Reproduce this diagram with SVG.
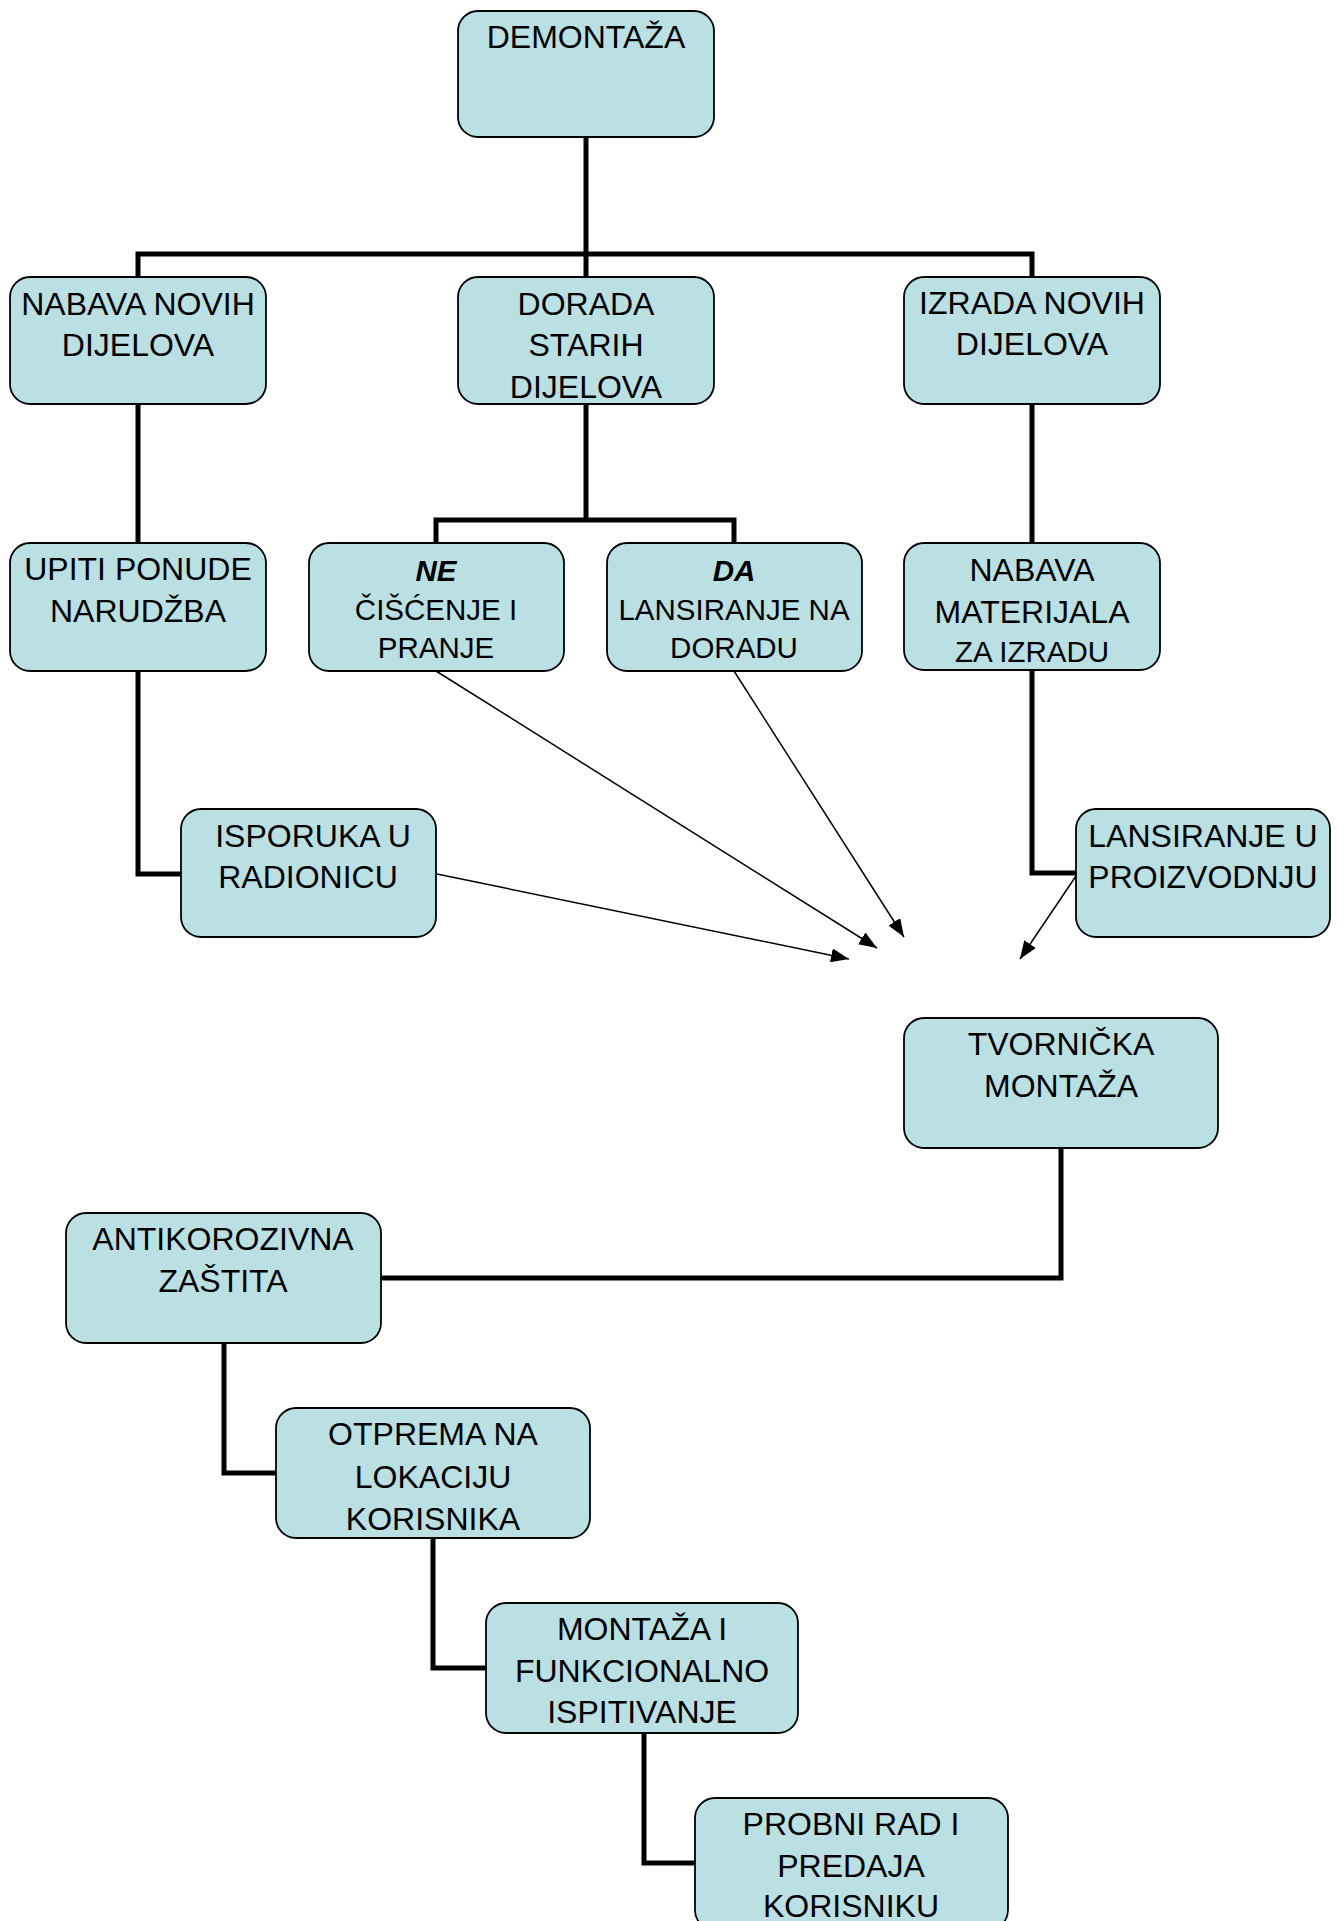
<svg xmlns="http://www.w3.org/2000/svg" width="1344" height="1921" viewBox="0 0 1344 1921">
<style>
.box{fill:#BBE0E3;stroke:#000;stroke-width:1.8}
.t{font-family:"Liberation Sans",Arial,sans-serif;font-size:32px;fill:#000;text-anchor:middle}
.s{font-size:29.5px}
.bi{font-weight:bold;font-style:italic}
.c{fill:none;stroke:#000;stroke-width:5;stroke-linejoin:miter}
.a{fill:none;stroke:#000;stroke-width:1.5}
</style>
<defs>
<marker id="ah" markerUnits="userSpaceOnUse" markerWidth="18" markerHeight="14" viewBox="0 0 18 14" refX="18" refY="7" orient="auto">
<path d="M0,0 L18,7 L0,14 z" fill="#000"/>
</marker>
</defs>
<rect width="1344" height="1921" fill="#fff"/>
<g id="connectors">
<path class="c" d="M586,137 V277"/>
<path class="c" d="M138,277 V254 H1032 V277"/>
<path class="c" d="M138,404 V543"/>
<path class="c" d="M138,671 V874 H181"/>
<path class="c" d="M586,404 V520"/>
<path class="c" d="M436,543 V520 H734 V543"/>
<path class="c" d="M1032,404 V543"/>
<path class="c" d="M1032,670 V873 H1076"/>
<path class="c" d="M1061,1148 V1278 H381"/>
<path class="c" d="M224,1343 V1473 H276"/>
<path class="c" d="M433,1538 V1668 H486"/>
<path class="c" d="M644,1733 V1863 H695"/>
<line class="a" x1="437" y1="874" x2="849" y2="959" marker-end="url(#ah)"/>
<line class="a" x1="436" y1="671" x2="877" y2="948" marker-end="url(#ah)"/>
<line class="a" x1="734" y1="671" x2="904" y2="937" marker-end="url(#ah)"/>
<line class="a" x1="1076" y1="876" x2="1020" y2="959" marker-end="url(#ah)"/>
</g>
<g id="demontaza">
<rect class="box" x="458" y="11" width="256" height="126" rx="20"/>
<text class="t" x="586" y="48">DEMONTAŽA</text>
</g>
<g id="nabava-novih">
<rect class="box" x="10" y="277" width="256" height="127" rx="20"/>
<text class="t" x="138" y="315">NABAVA NOVIH</text>
<text class="t" x="138" y="356">DIJELOVA</text>
</g>
<g id="dorada">
<rect class="box" x="458" y="277" width="256" height="127" rx="20"/>
<text class="t" x="586" y="315">DORADA</text>
<text class="t" x="586" y="356">STARIH</text>
<text class="t" x="586" y="398">DIJELOVA</text>
</g>
<g id="izrada">
<rect class="box" x="904" y="277" width="256" height="127" rx="20"/>
<text class="t" x="1032" y="314">IZRADA NOVIH</text>
<text class="t" x="1032" y="355">DIJELOVA</text>
</g>
<g id="upiti">
<rect class="box" x="10" y="543" width="256" height="128" rx="20"/>
<text class="t" x="138" y="580">UPITI PONUDE</text>
<text class="t" x="138" y="622">NARUDŽBA</text>
</g>
<g id="ne">
<rect class="box" x="309" y="543" width="255" height="128" rx="20"/>
<text class="t s bi" x="436" y="581">NE</text>
<text class="t s" x="436" y="620">ČIŠĆENJE I</text>
<text class="t s" x="436" y="658">PRANJE</text>
</g>
<g id="da">
<rect class="box" x="607" y="543" width="255" height="128" rx="20"/>
<text class="t s bi" x="734" y="581">DA</text>
<text class="t s" x="734" y="620">LANSIRANJE NA</text>
<text class="t s" x="734" y="658">DORADU</text>
</g>
<g id="nabava-materijala">
<rect class="box" x="904" y="543" width="256" height="127" rx="20"/>
<text class="t" x="1032" y="581">NABAVA</text>
<text class="t" x="1032" y="623">MATERIJALA</text>
<text class="t s" x="1032" y="662">ZA IZRADU</text>
</g>
<g id="isporuka">
<rect class="box" x="181" y="809" width="255" height="128" rx="20"/>
<text class="t" x="313" y="847">ISPORUKA U</text>
<text class="t" x="308" y="888">RADIONICU</text>
</g>
<g id="lansiranje">
<rect class="box" x="1076" y="809" width="254" height="128" rx="20"/>
<text class="t" x="1203" y="847">LANSIRANJE U</text>
<text class="t" x="1203" y="888">PROIZVODNJU</text>
</g>
<g id="tvornicka">
<rect class="box" x="904" y="1018" width="314" height="130" rx="20"/>
<text class="t" x="1061" y="1055">TVORNIČKA</text>
<text class="t" x="1061" y="1097">MONTAŽA</text>
</g>
<g id="antikorozivna">
<rect class="box" x="66" y="1213" width="315" height="130" rx="20"/>
<text class="t" x="223" y="1250">ANTIKOROZIVNA</text>
<text class="t" x="223" y="1292">ZAŠTITA</text>
</g>
<g id="otprema">
<rect class="box" x="276" y="1408" width="314" height="130" rx="20"/>
<text class="t" x="433" y="1445">OTPREMA NA</text>
<text class="t" x="433" y="1488">LOKACIJU</text>
<text class="t" x="433" y="1530">KORISNIKA</text>
</g>
<g id="montaza-ispitivanje">
<rect class="box" x="486" y="1603" width="312" height="130" rx="20"/>
<text class="t" x="642" y="1640">MONTAŽA I</text>
<text class="t" x="642" y="1682">FUNKCIONALNO</text>
<text class="t" x="642" y="1723">ISPITIVANJE</text>
</g>
<g id="probni-rad">
<rect class="box" x="695" y="1798" width="313" height="132" rx="20"/>
<text class="t" x="851" y="1835">PROBNI RAD I</text>
<text class="t" x="851" y="1877">PREDAJA</text>
<text class="t" x="851" y="1917">KORISNIKU</text>
</g>
</svg>
